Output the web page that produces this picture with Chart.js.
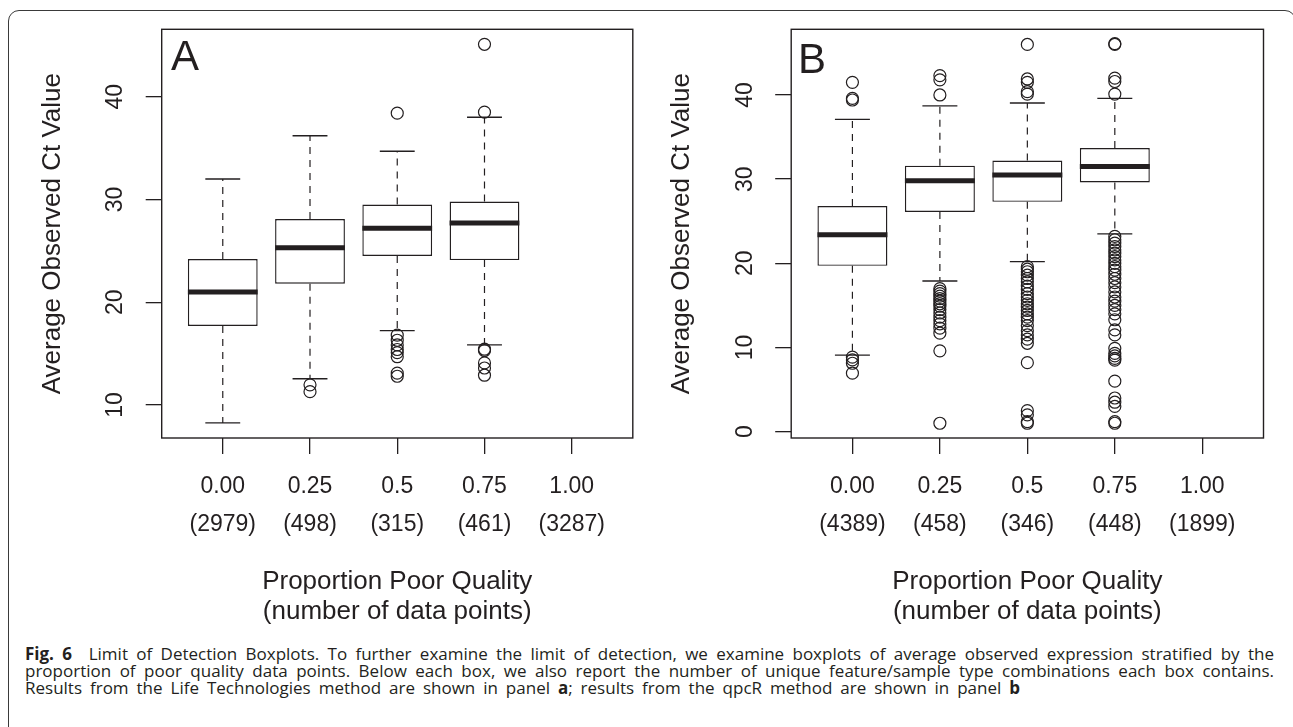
<!DOCTYPE html>
<html>
<head>
<meta charset="utf-8">
<script src="https://cdn.jsdelivr.net/npm/chart.js@4.4.1/dist/chart.umd.min.js"></script>
<style>
html, body { margin: 0; padding: 0; background: #fff; }
body { width: 1293px; height: 727px; overflow: hidden; position: relative; color: #231f20;
       font-family: "Liberation Sans", Arial, Helvetica, sans-serif; }
.frame { position: absolute; left: 8px; top: 10px; width: 1288px; height: 800px;
         border: 1.3px solid #3a3a3a; border-radius: 11px; box-sizing: border-box; }
canvas { position: absolute; top: 0; }
#chartA { left: 0; }
#chartB { left: 640px; }
.tag { position: absolute; font-size: 42px; line-height: 42px; }
.caption { position: absolute; left: 25px; top: 645px; font-family: "Open Sans", sans-serif;
           font-size: 17px; line-height: 17px; }
.caption div { text-align: justify; text-align-last: justify; }
</style>
</head>
<body>
<div class="frame"></div>
<canvas id="chartA" width="640" height="640"></canvas>
<canvas id="chartB" width="653" height="640"></canvas>
<div class="tag" style="left:171px; top:34.5px;">A</div>
<div class="tag" style="left:798px; top:37.8px;">B</div>
<div class="caption">
  <div style="width:1249px;"><b>Fig. 6</b>&nbsp; Limit of Detection Boxplots. To further examine the limit of detection, we examine boxplots of average observed expression stratified by the</div>
  <div style="width:1249px;">proportion of poor quality data points. Below each box, we also report the number of unique feature/sample type combinations each box contains.</div>
  <div style="width:995px;">Results from the Life Technologies method are shown in panel <b>a</b>; results from the qpcR method are shown in panel <b>b</b></div>
</div>

<script>
// --- DATA ---
const groupPos = [1, 2, 3, 4, 5];
const groupLabels = ['0.00', '0.25', '0.5', '0.75', '1.00'];
const countsA = [2979, 498, 315, 461, 3287];
const countsB = [4389, 458, 346, 448, 1899];

// Panel A (Life Technologies) - boxes for 0.00 .. 0.75 (1.00 is empty)
const lowA  = [8.26, 12.55, 17.24, 15.85];
const q1A   = [17.7, 21.8, 24.5, 24.1];
const medA  = [21.0, 25.3, 27.2, 27.7];
const q3A   = [24.2, 28.1, 29.5, 29.8];
const highA = [32.0, 36.2, 34.7, 38.0];
const outA = [
    [],
    [11.96, 11.3],
    [38.4, 16.8, 16.3, 15.85, 15.4, 15.1, 14.7, 13.1, 12.8],
    [45.1, 38.5, 15.43, 15.3, 14.1, 13.6, 12.9]
];

// Panel B (qpcR)
const lowB  = [9.1, 17.9, 20.2, 23.5];
const q1B   = [19.7, 26.1, 27.3, 29.6];
const medB  = [23.4, 29.8, 30.5, 31.5];
const q3B   = [26.8, 31.6, 32.2, 33.7];
const highB = [37.1, 38.7, 39.05, 39.6];
const outB = [
    [41.5, 39.6, 39.4, 8.85, 8.53, 8.13, 6.95],
    [42.3, 41.8, 40.0, 17.0, 16.7, 16.4, 16.1, 15.8, 15.5, 15.2, 14.9, 14.5, 14.1, 13.6, 13.2, 12.8, 12.3, 11.7, 9.6, 1.0],
    [46.0, 41.9, 41.5, 40.4, 40.1, 19.6, 19.3, 19.0, 18.6, 18.2, 17.8, 17.3, 16.9, 16.4, 16.0, 15.6, 15.2, 14.8,
     14.4, 14.0, 13.6, 13.2, 12.6, 12.0, 11.5, 11.0, 10.5, 8.2, 2.5, 2.0, 1.2, 1.0],
    [46.1, 46.0, 42.0, 41.6, 40.1, 23.2, 22.8, 22.4, 22.0, 21.6, 21.2, 20.8, 20.4, 20.0, 19.6, 19.2, 18.7, 18.2,
     17.7, 17.2, 16.6, 16.0, 15.5, 15.0, 14.5, 14.0, 13.3, 12.1, 11.5, 9.9, 9.3, 9.0, 8.7, 8.5, 6.0, 4.0, 3.5, 3.0, 1.2, 1.0]
];

const yTicksA = [10, 20, 30, 40];
const yTicksB = [0, 10, 20, 30, 40];
const yRangeA = [6.79, 46.56];
const yRangeB = [-0.75, 47.8];

// --- STYLE ---
const ink = '#231f20';
const fontFam = '"Liberation Sans", Arial, Helvetica, sans-serif';

// draws the R-style frame round the plot region
const frameBox = {
    id: 'frameBox',
    afterDatasetsDraw(chart) {
        const a = chart.chartArea, c = chart.ctx;
        c.save();
        c.strokeStyle = ink;
        c.lineWidth = 1.4;
        c.strokeRect(a.left, a.top, a.right - a.left, a.bottom - a.top);
        c.restore();
    }
};

function makePanel(canvasId, s, counts, yTicks, yRange, geo) {
    let boxes = [], upper = [], lower = [], caps = [], medians = [], outliers = [];
    s.q1.forEach((q1, i) => {
        const p = groupPos[i];
        boxes.push({ x: p, y: [q1, s.q3[i]] });
        upper.push({ x: p, y: s.q3[i] }, { x: p, y: s.high[i] }, { x: p, y: null });
        lower.push({ x: p, y: q1 }, { x: p, y: s.low[i] }, { x: p, y: null });
        caps.push({ x: p - 0.2, y: s.high[i] }, { x: p + 0.2, y: s.high[i] }, { x: p, y: null });
        caps.push({ x: p - 0.2, y: s.low[i] }, { x: p + 0.2, y: s.low[i] }, { x: p, y: null });
        medians.push({ x: p - 0.4, y: s.med[i] }, { x: p + 0.4, y: s.med[i] }, { x: p, y: null });
        s.out[i].forEach(v => outliers.push({ x: p, y: v }));
    });

    const W = geo.width, H = 640;

    return new Chart(document.getElementById(canvasId), {
        type: 'bar',
        data: {
            datasets: [
                { type: 'bar', data: boxes, backgroundColor: '#fff', borderColor: ink, borderWidth: 1.4,
                  borderSkipped: false, barPercentage: 0.8, categoryPercentage: 1.0, order: 4 },
                { type: 'line', data: upper, borderColor: ink, borderWidth: 1.2, borderDash: [7, 6],
                  pointRadius: 0, spanGaps: false, order: 3 },
                { type: 'line', data: lower, borderColor: ink, borderWidth: 1.2, borderDash: [7, 6],
                  pointRadius: 0, spanGaps: false, order: 3 },
                { type: 'line', data: caps, borderColor: ink, borderWidth: 1.4,
                  pointRadius: 0, spanGaps: false, order: 2 },
                { type: 'line', data: medians, borderColor: ink, borderWidth: 5, borderCapStyle: 'butt',
                  pointRadius: 0, spanGaps: false, order: 1 },
                { type: 'scatter', data: outliers, pointStyle: 'circle', pointRadius: 6, pointBorderWidth: 1.2,
                  pointBorderColor: ink, pointBackgroundColor: 'rgba(0,0,0,0)', order: 0 }
            ]
        },
        options: {
            responsive: false,
            animation: false,
            events: [],
            layout: { padding: { left: 0, top: 29.3, right: W - geo.areaRight, bottom: 0 } },
            plugins: { legend: { display: false }, tooltip: { enabled: false } },
            scales: {
                x: {
                    type: 'linear', min: 0.3, max: 5.7, offset: false,
                    afterBuildTicks: sc => { sc.ticks = groupPos.map(v => ({ value: v })); },
                    afterFit: sc => { sc.height = H - 438; sc.paddingLeft = 0; sc.paddingRight = 0; },
                    grid: { offset: false, drawOnChartArea: false, drawTicks: true, tickLength: 16,
                            color: ink, lineWidth: 1.3 },
                    border: { display: false },
                    ticks: {
                        autoSkip: false, maxRotation: 0, padding: 13.7, color: ink,
                        font: { family: fontFam, size: 23, lineHeight: 38 / 23 },
                        callback: (v, i) => [groupLabels[i], '(' + counts[i] + ')']
                    },
                    title: {
                        display: true, color: ink,
                        text: ['Proportion Poor Quality', '(number of data points)'],
                        font: { family: fontFam, size: 26, lineHeight: 30 / 26 },
                        padding: { top: 0, bottom: 13.3 }
                    }
                },
                y: {
                    min: yRange[0], max: yRange[1],
                    afterBuildTicks: sc => { sc.ticks = yTicks.map(v => ({ value: v })); },
                    afterFit: sc => { sc.width = geo.areaLeft; sc.paddingTop = 0; sc.paddingBottom = 0; },
                    grid: { drawOnChartArea: false, drawTicks: true, tickLength: 16, color: ink, lineWidth: 1.3 },
                    border: { display: false },
                    ticks: {
                        minRotation: 90, maxRotation: 90, crossAlign: 'center', padding: 17, color: ink,
                        font: { family: fontFam, size: 23 },
                        callback: v => String(v)
                    },
                    title: {
                        display: true, color: ink, text: 'Average Observed Ct Value',
                        font: { family: fontFam, size: 26, lineHeight: 1.2 },
                        padding: { top: geo.titleCenter - 15.6, bottom: 0 }
                    }
                }
            }
        },
        plugins: [frameBox]
    });
}

// Init
makePanel('chartA',
    { low: lowA, q1: q1A, med: medA, q3: q3A, high: highA, out: outA },
    countsA, yTicksA, yRangeA,
    { width: 640, areaLeft: 161.7, areaRight: 634.3, titleCenter: 53 });

makePanel('chartB',
    { low: lowB, q1: q1B, med: medB, q3: q3B, high: highB, out: outB },
    countsB, yTicksB, yRangeB,
    { width: 653, areaLeft: 151.2, areaRight: 623.5, titleCenter: 42 });
</script>
</body>
</html>
